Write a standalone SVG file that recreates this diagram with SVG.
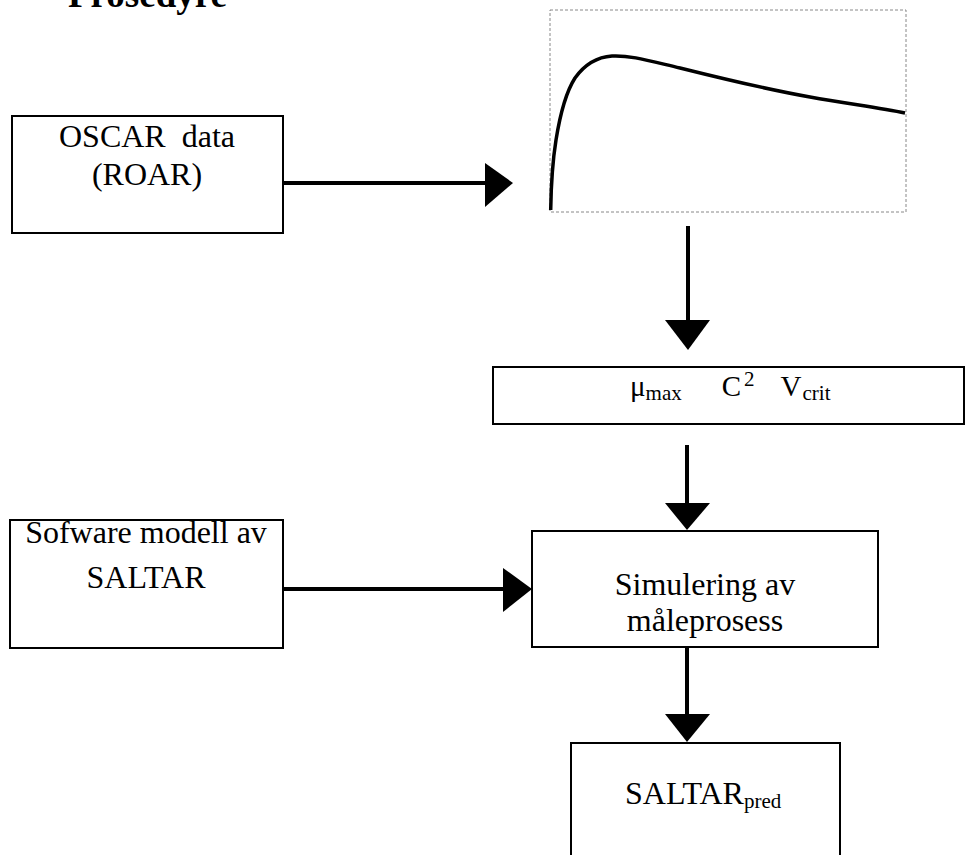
<svg xmlns="http://www.w3.org/2000/svg" width="968" height="855" viewBox="0 0 968 855">
<style>
.box{fill:#fff;stroke:#000;stroke-width:2}
.t{font-family:"Liberation Serif","Times New Roman",serif;font-size:32px;fill:#000}
.sub{font-size:21px}
.conn line{stroke:#000;stroke-width:4}
.conn polygon{fill:#000}
</style>
<rect width="968" height="855" fill="#fff"/>
<text id="title" x="68" y="7" class="t" style="font-size:37px;font-weight:bold">Prosedyre</text>
<g id="oscar">
<rect class="box" x="12" y="116" width="271" height="117"/>
<text class="t" x="147" y="147" text-anchor="middle" xml:space="preserve">OSCAR  data</text>
<text class="t" x="147" y="185" text-anchor="middle">(ROAR)</text>
</g>
<g id="graph">
<rect x="550" y="10" width="356" height="202" fill="#fff" stroke="#888" stroke-width="1" stroke-dasharray="3,2"/>
<path d="M550.7,210 C551,190 552,165 556,140 C560,115 566,92 575,78 C585,64 597,57 612,56 C630,55 650,61 680,68 C720,78 770,90 810,97 C850,104 880,108 905,113" fill="none" stroke="#000" stroke-width="3.5"/>
</g>
<g id="params">
<rect class="box" x="493" y="367" width="471" height="57"/>
<text class="t" x="630" y="396" style="font-size:29px">μ<tspan class="sub" dy="4">max</tspan><tspan dy="-4" dx="40">C</tspan><tspan class="sub" dy="-10" dx="3">2</tspan><tspan dy="10" dx="26">V</tspan><tspan class="sub" dy="4" dx="1">crit</tspan></text>
</g>
<g id="software">
<rect class="box" x="10" y="520" width="273" height="128"/>
<text class="t" x="146" y="543" text-anchor="middle">Sofware modell av</text>
<text class="t" x="146" y="588" text-anchor="middle">SALTAR</text>
</g>
<g id="simulering">
<rect class="box" x="532" y="531" width="346" height="116"/>
<text class="t" x="705" y="595" text-anchor="middle">Simulering av</text>
<text class="t" x="705" y="631" text-anchor="middle">måleprosess</text>
</g>
<g id="saltar">
<rect class="box" x="571" y="743" width="269" height="130"/>
<text class="t" x="625" y="804">SALTAR<tspan class="sub" dy="4">pred</tspan></text>
</g>
<g id="connectors" class="conn">
<line x1="283" y1="183" x2="487" y2="183"/>
<polygon points="485,163 513,183 485,207"/>
<line x1="688" y1="226" x2="688" y2="322"/>
<polygon points="665,320 710,320 688,350"/>
<line x1="687" y1="445" x2="687" y2="505"/>
<polygon points="665,503 710,503 687,530"/>
<line x1="283" y1="589" x2="505" y2="589"/>
<polygon points="503,568 532,589 503,612"/>
<line x1="687" y1="647" x2="687" y2="716"/>
<polygon points="665,714 710,714 687,742"/>
</g>
</svg>
